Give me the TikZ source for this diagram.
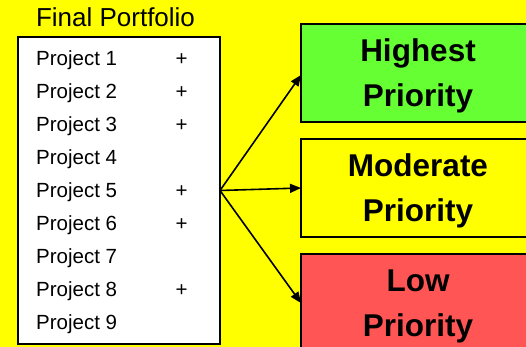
\documentclass[tikz,border=0pt]{standalone}
\usepackage{fontspec}
\setmainfont{Liberation Sans}
\usetikzlibrary{arrows.meta}
\definecolor{bgyellow}{HTML}{FFFF00}
\definecolor{higreen}{HTML}{66FF33}
\definecolor{lowred}{HTML}{FF5555}

\begin{document}
\begin{tikzpicture}[x=1pt,y=-1pt,
  framebox/.style={draw=black, line width=1.8pt, inner sep=0pt, outer sep=0pt, anchor=north west},
  prio/.style={framebox, minimum width=234pt, minimum height=98pt},
  prioText/.style={anchor=base, inner sep=0pt, font=\fontsize{31.5}{36}\selectfont\bfseries},
  rowText/.style={anchor=base west, inner sep=0pt, font=\fontsize{20.5}{24}\selectfont},
  plusText/.style={anchor=base, inner sep=0pt, font=\fontsize{20.5}{24}\selectfont},
  link/.style={draw=black, line width=1.6pt, -{Triangle[length=11pt,width=9pt]}}]

  % page and background
  \useasboundingbox (0,0) rectangle (526,347);
  \fill[bgyellow] (0,0) rectangle (526,347);

  % portfolio list
  \node[anchor=base, inner sep=0pt, font=\fontsize{26}{30}\selectfont] (title) at (115.5,27) {Final Portfolio};
  \node[framebox, fill=white, minimum width=202pt, minimum height=307pt] (portfolio) at (18,37) {};

  \foreach \i in {1,...,9} {
    \node[rowText] (p\i) at (36,{66+32.9*(\i-1)}) {Project \i};
  }
  \foreach \i in {1,2,3,5,6,8} {
    \node[plusText] (plus\i) at (181.5,{66+32.9*(\i-1)}) {+};
  }

  % priority classes
  \node[prio, fill=higreen] (high) at (301,24) {};
  \node[prio, fill=bgyellow] (mod) at (301,139) {};
  \node[prio, fill=lowred] (low) at (301,254) {};

  \node[prioText] (highA) at (418,62) {Highest};
  \node[prioText] (highB) at (418,107) {Priority};
  \node[prioText] (modA) at (418,176) {Moderate};
  \node[prioText] (modB) at (418,221) {Priority};
  \node[prioText] (lowA) at (418,291) {Low};
  \node[prioText] (lowB) at (418,336) {Priority};

  % connectors
  \draw[link] (portfolio.east) -- ([yshift=-2pt]high.west);
  \draw[link] (portfolio.east) -- (mod.west);
  \draw[link] (portfolio.east) -- (low.west);
\end{tikzpicture}
\end{document}
